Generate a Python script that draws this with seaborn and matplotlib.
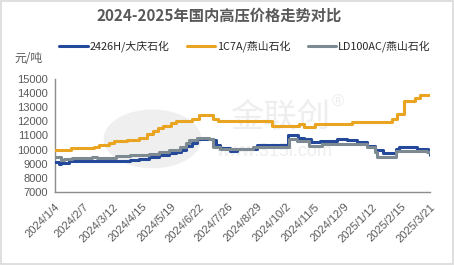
import matplotlib
matplotlib.use('Agg')
import matplotlib.pyplot as plt
import seaborn as sns
import pandas as pd
from matplotlib.patches import Rectangle, Ellipse

series_names = ['2426H/大庆石化', '1C7A/燕山石化', 'LD100AC/燕山石化']
series_colors = ['#24499a', '#e9a521', '#7e8a92']

# 2426H / 大庆石化 (change points, step series)
daqing_dates = ['2024-01-04', '2024-01-09', '2024-01-11', '2024-01-21', '2024-04-01',
                '2024-04-12', '2024-04-24', '2024-05-06', '2024-05-18', '2024-05-26',
                '2024-06-01', '2024-06-07', '2024-06-13', '2024-06-19', '2024-07-08',
                '2024-07-12', '2024-07-16', '2024-07-28', '2024-08-06', '2024-08-29',
                '2024-10-05', '2024-10-16', '2024-10-24', '2024-11-01', '2024-11-12',
                '2024-12-01', '2024-12-13', '2024-12-25', '2025-01-06', '2025-01-15',
                '2025-01-25', '2025-02-09', '2025-02-13', '2025-03-06', '2025-03-19',
                '2025-03-21']
daqing_values = [9100, 8950, 9050, 9180, 9260,
                 9330, 9450, 9600, 9750, 9860,
                 10000, 10250, 10500, 10760, 10700,
                 10350, 10100, 9930, 10050, 10330,
                 11050, 10850, 10730, 10520, 10620,
                 10760, 10700, 10520, 10270, 9970,
                 9760, 10050, 10160, 10050, 9900,
                 9650]

# 1C7A / 燕山石化
c7a_dates = ['2024-01-04', '2024-01-23', '2024-02-19', '2024-02-25', '2024-03-08',
             '2024-03-14', '2024-03-29', '2024-04-12', '2024-04-21', '2024-04-28',
             '2024-05-04', '2024-05-10', '2024-05-20', '2024-05-26', '2024-06-14',
             '2024-06-22', '2024-07-08', '2024-07-14', '2024-09-16', '2024-10-18',
             '2024-10-24', '2024-11-05', '2024-12-19', '2025-02-04', '2025-02-10',
             '2025-02-19', '2025-03-03', '2025-03-09', '2025-03-21']
c7a_values = [10000, 10100, 10200, 10350, 10500,
              10600, 10700, 10850, 11100, 11350,
              11500, 11700, 11850, 12000, 12200,
              12450, 12200, 12000, 11650, 11800,
              11600, 11800, 11950, 12150, 12500,
              13450, 13650, 13900, 13900]

# LD100AC / 燕山石化
ld_dates = ['2024-01-04', '2024-01-11', '2024-01-15', '2024-01-24', '2024-02-17',
            '2024-02-22', '2024-03-16', '2024-04-01', '2024-04-24', '2024-05-06',
            '2024-05-18', '2024-05-30', '2024-06-07', '2024-06-10', '2024-06-19',
            '2024-07-04', '2024-07-08', '2024-07-16', '2024-08-24', '2024-10-06',
            '2024-10-15', '2024-10-30', '2024-11-14', '2025-01-06', '2025-01-15',
            '2025-01-18', '2025-02-09', '2025-03-17', '2025-03-21']
ld_values = [9450, 9280, 9300, 9430, 9500,
             9430, 9550, 9620, 9680, 9850,
             10000, 10200, 10450, 10700, 10850,
             10730, 10200, 10020, 10150, 10750,
             10600, 10250, 10380, 10200, 9850,
             9480, 9930, 9850, 9850]

x_tick_labels = ['2024/1/4', '2024/2/7', '2024/3/12', '2024/4/15', '2024/5/19',
                 '2024/6/22', '2024/7/26', '2024/8/29', '2024/10/2', '2024/11/5',
                 '2024/12/9', '2025/1/12', '2025/2/15', '2025/3/21']
y_ticks = [7000, 8000, 9000, 10000, 11000, 12000, 13000, 14000, 15000]

title = '2024-2025年国内高压价格走势对比'
unit_label = '元/吨'

frames = []
for name, d, v in [(series_names[0], daqing_dates, daqing_values),
                   (series_names[1], c7a_dates, c7a_values),
                   (series_names[2], ld_dates, ld_values)]:
    frames.append(pd.DataFrame({'date': pd.to_datetime(d), 'price': v, 'series': name}))
df = pd.concat(frames, ignore_index=True)

sns.set_style('white')
plt.rcParams['font.family'] = ['Liberation Sans', 'Noto Sans CJK SC', 'DejaVu Sans']

fig = plt.figure(figsize=(4.54, 2.65), dpi=100)
ax = fig.add_axes([0.121, 0.2755, 0.826, 0.4265])

# watermark
ax.add_patch(Ellipse((0.26, 0.47), 0.26, 0.52, transform=ax.transAxes,
                     facecolor='#efefef', edgecolor='none', zorder=0))
ax.text(0.6, 0.66, '金联创', transform=ax.transAxes, fontsize=24,
        family=['Noto Sans CJK SC'], color='#eeeeee', ha='center', va='center', zorder=0)
ax.text(0.755, 0.79, '®', transform=ax.transAxes, fontsize=12,
        color='#eeeeee', ha='center', va='center', zorder=0)
ax.text(0.585, 0.355, 'www.315i.com', transform=ax.transAxes, fontsize=13,
        color='#eeeeee', ha='center', va='center', zorder=0)

sns.lineplot(data=df, x='date', y='price', hue='series', hue_order=series_names,
             palette=series_colors, estimator=None, drawstyle='steps-post',
             linewidth=2.2, ax=ax, legend=False, zorder=3)

start = pd.Timestamp('2024-01-04')
ticks = [start + pd.Timedelta(days=34 * i) for i in range(len(x_tick_labels))]
ax.set_xlim(ticks[0], ticks[-1])
ax.set_ylim(7000, 15000)
ax.set_xticks(ticks)
ax.set_xticklabels(x_tick_labels, rotation=45, ha='right', rotation_mode='anchor')
ax.set_yticks(y_ticks)
ax.set_yticklabels([str(t) for t in y_ticks])
ax.set_xlabel('')
ax.set_ylabel('')

for s in ['top', 'right']:
    ax.spines[s].set_visible(False)
for s in ['left', 'bottom']:
    ax.spines[s].set_color('#8c8c8c')
    ax.spines[s].set_linewidth(1.0)
ax.tick_params(axis='both', direction='out', length=3, width=1, color='#8c8c8c',
               labelsize=8, labelcolor='#595959', pad=2)
ax.tick_params(axis='x', pad=4)

fig.text(0.482, 0.943, title, ha='center', va='center', fontsize=11,
         fontweight='bold', color='#595959', family=['Noto Sans CJK SC'])
fig.text(0.031, 0.78, unit_label, ha='left', va='center', fontsize=8.5,
         color='#595959', family=['Noto Sans CJK SC'])

handles = ax.get_lines()[:3]
fig.legend(handles, series_names, loc='center', bbox_to_anchor=(0.54, 0.825), ncol=3,
           frameon=False, handlelength=2.6, columnspacing=1.6,
           handletextpad=0.2, prop={'family': ['Noto Sans CJK SC'], 'size': 7.8})

fig.patches.append(Rectangle((0.002, 0.003), 0.995, 0.993, transform=fig.transFigure,
                             fill=False, edgecolor='#d9d9d9', linewidth=1.2))

fig.savefig('out.png', dpi=100)
